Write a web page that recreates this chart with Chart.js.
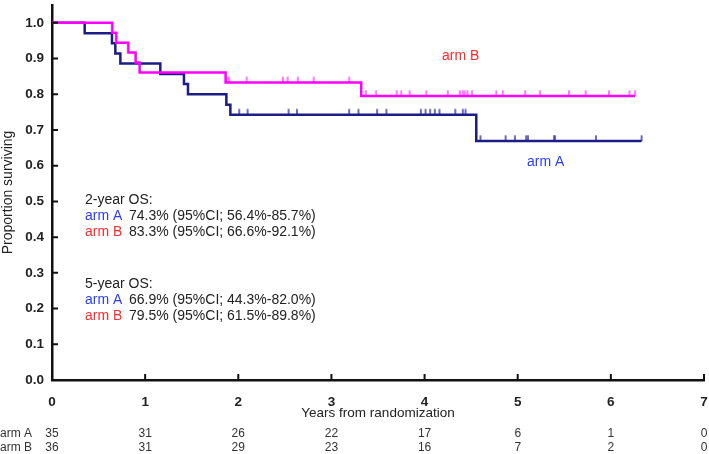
<!DOCTYPE html>
<html><head><meta charset="utf-8">
<script src="https://cdn.jsdelivr.net/npm/chart.js@4"></script>
<style>html,body{margin:0;padding:0;background:#fff}#wrap{width:709px;height:454px;position:relative}</style>
</head><body><div id="wrap"><canvas id="c"></canvas></div>
<script>
// ---- data ----
const timesA = [0, 0.351, 0.644, 0.68, 0.734, 1.163, 1.417, 1.46, 1.872, 1.915, 4.555, 6.33];
const survA  = [1.0, 0.971, 0.943, 0.914, 0.886, 0.857, 0.829, 0.800, 0.771, 0.743, 0.669, 0.669];
const censorA = [2.01, 2.10, 2.54, 2.63, 3.19, 3.29, 3.49, 3.59, 3.96, 4.01, 4.06, 4.11, 4.16, 4.33, 4.41, 4.44,
                 4.60, 4.87, 4.97, 5.09, 5.11, 5.39, 5.40, 5.84, 6.33];
const timesB = [0, 0.648, 0.691, 0.82, 0.898, 0.941, 1.864, 3.32, 6.26];
const survB  = [1.0, 0.972, 0.944, 0.917, 0.889, 0.861, 0.833, 0.795, 0.795];
const censorB = [1.886, 1.90, 2.09, 2.48, 2.53, 2.64, 2.81, 3.19, 3.37, 3.48, 3.70, 3.75, 3.84, 4.02, 4.25, 4.38,
                 4.41, 4.43, 4.46, 4.51, 4.77, 4.84, 5.08, 5.24, 5.55, 5.73, 5.98, 6.20, 6.26];
const xTickValues = [0, 1, 2, 3, 4, 5, 6, 7];
const xTickLabels = ['0', '1', '2', '3', '4', '5', '6', '7'];
const yTickValues = [0, 0.1, 0.2, 0.3, 0.4, 0.5, 0.6, 0.7, 0.8, 0.9, 1.0];
const yTickLabels = ['0.0', '0.1', '0.2', '0.3', '0.4', '0.5', '0.6', '0.7', '0.8', '0.9', '1.0'];
const atRiskA = [35, 31, 26, 22, 17, 6, 1, 0];
const atRiskB = [36, 31, 29, 23, 16, 7, 2, 0];
const groupNames = ['arm A', 'arm B'];
const osLines = [
  {head: '2-year OS:'},
  {arm: 'arm A', text: '74.3% (95%CI; 56.4%-85.7%)'},
  {arm: 'arm B', text: '83.3% (95%CI; 66.6%-92.1%)'},
  {head: '5-year OS:'},
  {arm: 'arm A', text: '66.9% (95%CI; 44.3%-82.0%)'},
  {arm: 'arm B', text: '79.5% (95%CI; 61.5%-89.8%)'}
];

// ---- helpers ----
const FONT = "'Liberation Sans', Arial, sans-serif";
const COL_A = '#1c1c86', COL_B = '#ff00ff';
const TXT_A = '#2a3cff', TXT_B = '#ff2a2a';
function toPts(ts, ss) { return ts.map((t, i) => ({x: t, y: ss[i]})); }
function survAt(ts, ss, t) { let v = ss[0]; for (let i = 0; i < ts.length; i++) { if (ts[i] <= t) v = ss[i]; } return v; }
function censPts(cs, ts, ss) { return cs.map(t => ({x: t, y: survAt(ts, ss, t)})); }
function mark(color) {
  const c = document.createElement('canvas'); c.width = 4; c.height = 14;
  const g = c.getContext('2d'); g.strokeStyle = color; g.lineWidth = 1.6;
  g.beginPath(); g.moveTo(2, 7); g.lineTo(2, 1.2); g.stroke();
  return c;
}
function noPad(s) { s.paddingLeft = 0; s.paddingRight = 0; s.paddingTop = 0; s.paddingBottom = 0; }

const tickMarks = {
  id: 'tickMarks',
  afterDraw(chart) {
    const {ctx, scales: {x, y}} = chart;
    ctx.save(); ctx.strokeStyle = '#111'; ctx.lineWidth = 2; ctx.beginPath();
    x.ticks.forEach(t => { const px = x.getPixelForValue(t.value); if (t.value > 0) { ctx.moveTo(px, x.top); ctx.lineTo(px, x.top - 6); } });
    y.ticks.forEach(t => { const py = y.getPixelForValue(t.value); if (t.value > 0) { ctx.moveTo(y.right, py); ctx.lineTo(y.right + 6, py); } });
    ctx.stroke(); ctx.restore();
  }
};

const annotations = {
  id: 'annotations',
  afterDraw(chart) {
    const {ctx, scales: {x}} = chart;
    ctx.save();
    ctx.textBaseline = 'middle'; ctx.textAlign = 'left';
    ctx.font = '14px ' + FONT;
    ctx.fillStyle = TXT_B; ctx.fillText('arm B', 442, 56);
    ctx.fillStyle = TXT_A; ctx.fillText('arm A', 527, 162);
    const ys = [200, 216.5, 232, 284, 300.5, 316];
    osLines.forEach((l, i) => {
      if (l.head) { ctx.fillStyle = '#222'; ctx.fillText(l.head, 85, ys[i]); }
      else {
        ctx.fillStyle = l.arm === 'arm A' ? TXT_A : TXT_B; ctx.fillText(l.arm, 85, ys[i]);
        ctx.fillStyle = '#222'; ctx.fillText(l.text, 129, ys[i]);
      }
    });
    ctx.font = '12px ' + FONT; ctx.fillStyle = '#333';
    ctx.fillText(groupNames[0], 0, 434); ctx.fillText(groupNames[1], 0, 448);
    ctx.textAlign = 'center';
    xTickValues.forEach((v, i) => {
      const px = x.getPixelForValue(v);
      ctx.fillText(String(atRiskA[i]), px, 434);
      ctx.fillText(String(atRiskB[i]), px, 448);
    });
    ctx.restore();
  }
};

new Chart(document.getElementById('c'), {
  type: 'scatter',
  data: {
    datasets: [
      {label: 'arm B', data: toPts(timesB, survB), showLine: true, stepped: 'before', borderColor: COL_B, borderWidth: 2.5, pointRadius: 0},
      {label: 'arm B censored', data: censPts(censorB, timesB, survB), showLine: false, pointStyle: mark('#ff55ff'), pointRadius: 3},
      {label: 'arm A', data: toPts(timesA, survA), showLine: true, stepped: 'before', borderColor: COL_A, borderWidth: 2.5, pointRadius: 0},
      {label: 'arm A censored', data: censPts(censorA, timesA, survA), showLine: false, pointStyle: mark('#4646a6'), pointRadius: 3}
    ]
  },
  options: {
    responsive: true, maintainAspectRatio: false, animation: false, events: [],
    layout: {padding: {left: 0, right: 4.5, top: 0, bottom: 0}},
    plugins: {legend: {display: false}, tooltip: {enabled: false}},
    scales: {
      x: {
        type: 'linear', min: 0, max: 7,
        afterBuildTicks: s => { s.ticks = xTickValues.map(v => ({value: v})); },
        afterFit: s => { s.height = 74; noPad(s); },
        ticks: {callback: (v, i) => xTickLabels[i], font: {family: FONT, size: 13.5, weight: 'bold'}, color: '#222', padding: 14, maxRotation: 0},
        grid: {display: false, drawTicks: false},
        border: {display: true, color: '#111', width: 2.5},
        title: {display: true, text: 'Years from randomization', font: {family: FONT, size: 13.5}, color: '#222', padding: {top: 0, bottom: 32.6}}
      },
      y: {
        min: 0, max: 1.05,
        afterBuildTicks: s => { s.ticks = yTickValues.map(v => ({value: v})); },
        afterFit: s => { s.width = 52; noPad(s); },
        ticks: {callback: (v, i) => yTickLabels[i], font: {family: FONT, size: 13.5, weight: 'bold'}, color: '#222', padding: 8},
        grid: {display: false, drawTicks: false},
        border: {display: true, color: '#111', width: 2.5},
        title: {display: true, text: 'Proportion surviving', font: {family: FONT, size: 14}, color: '#222', padding: {top: 0, bottom: 0}}
      }
    }
  },
  plugins: [tickMarks, annotations]
});
</script></body></html>
